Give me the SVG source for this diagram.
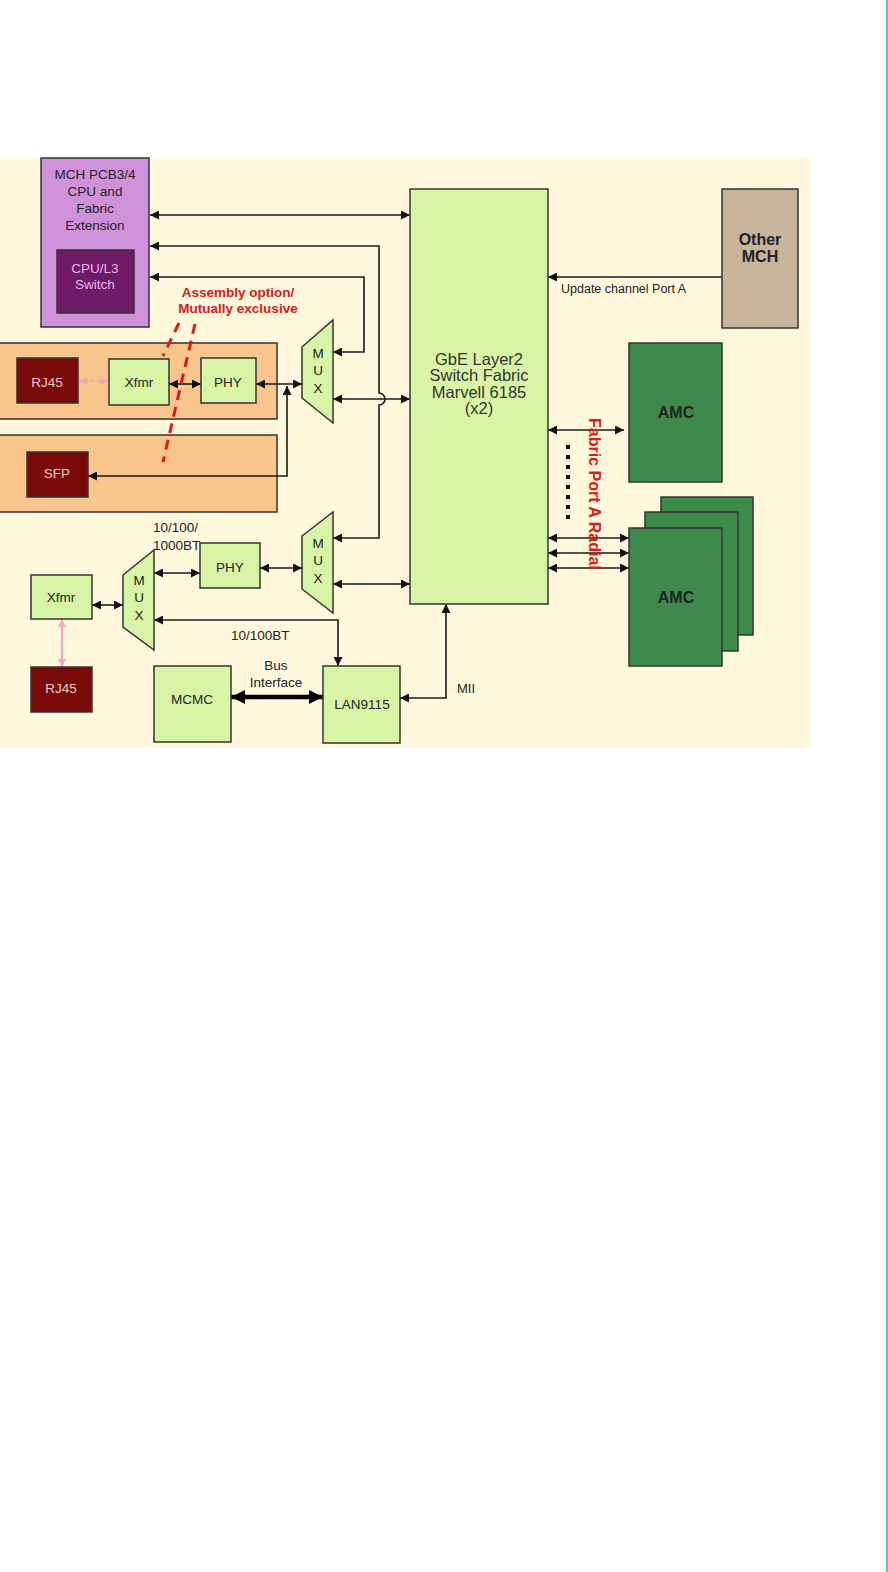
<svg xmlns="http://www.w3.org/2000/svg" width="888" height="1572" viewBox="0 0 888 1572">
<defs>
<style>
.t{font-family:"Liberation Sans",Arial,sans-serif;font-size:13.5px;fill:#222;text-anchor:middle}
.b{font-weight:bold}
.box{stroke:#333;stroke-width:1.5}
.lg{fill:#d8f5a6}
.dr{fill:#7a0a0a}
.og{fill:#f8c68c}
.am{fill:#3e8a4c}
.ln{fill:none;stroke:#1a1a1a;stroke-width:1.6}
.bi{marker-start:url(#ah);marker-end:url(#ah)}
.en{marker-end:url(#ah)}
</style>
<marker id="ah" viewBox="0 0 10 10" refX="10" refY="5" markerWidth="10" markerHeight="9" markerUnits="userSpaceOnUse" orient="auto-start-reverse"><path d="M0,0L10,5L0,10z" fill="#111"/></marker>
<marker id="pk" viewBox="0 0 10 10" refX="10" refY="5" markerWidth="8" markerHeight="8" markerUnits="userSpaceOnUse" orient="auto-start-reverse"><path d="M0,0L10,5L0,10z" fill="#f4a6c0"/></marker>
<marker id="bg" viewBox="0 0 10 10" refX="10" refY="5" markerWidth="14" markerHeight="14" markerUnits="userSpaceOnUse" orient="auto-start-reverse"><path d="M0,0L10,5L0,10z" fill="#000"/></marker>
</defs>
<rect x="0" y="0" width="888" height="1572" fill="#fff"/>
<rect x="886" y="0" width="2" height="1572" fill="#45c6de"/>
<rect x="0" y="158" width="810" height="590" fill="#fff8dc"/>

<g id="orange-top"><rect class="box og" x="-1" y="343" width="278" height="76"/></g>
<g id="orange-bottom"><rect class="box og" x="-1" y="435" width="278" height="77"/></g>

<g id="connectors">
<path class="ln bi" d="M150,215H410"/>
<path class="ln bi" d="M150,246H379V393a6,6 0 0 1 0,12V538H333"/>
<path class="ln bi" d="M150,277H364V352H333"/>
<path class="ln en" d="M722,277H548"/>
<path class="ln bi" d="M333,399H410"/>
<path class="ln bi" d="M169,384H201"/>
<path class="ln bi" d="M256,384H302"/>
<path class="ln bi" d="M287,386V476H88"/>
<path d="M79,381H108" fill="none" stroke="#f4a6c0" stroke-width="2" stroke-dasharray="3 3" marker-start="url(#pk)" marker-end="url(#pk)"/>
<path class="ln bi" d="M333,584H410"/>
<path class="ln bi" d="M260,568H302"/>
<path class="ln bi" d="M154,573H200"/>
<path class="ln bi" d="M92,605H123"/>
<path d="M62,619V667" fill="none" stroke="#f4a6c0" stroke-width="2" marker-start="url(#pk)" marker-end="url(#pk)"/>
<path class="ln bi" d="M154,620H338V666"/>
<path d="M231,697H323" fill="none" stroke="#000" stroke-width="4.5" marker-start="url(#bg)" marker-end="url(#bg)"/>
<path class="ln bi" d="M400,698H446V604"/>
<path class="ln bi" d="M548,430H624"/>
<path class="ln bi" d="M548,538H629"/>
<path class="ln bi" d="M548,553H629"/>
<path class="ln bi" d="M548,568H629"/>
<path d="M568,445V525" fill="none" stroke="#111" stroke-width="4" stroke-dasharray="4 6"/>
</g>

<g id="mch">
<rect class="box" x="41" y="158" width="108" height="169" fill="#cf92da"/>
<text class="t" x="95" y="179">MCH PCB3/4</text>
<text class="t" x="95" y="196">CPU and</text>
<text class="t" x="95" y="213">Fabric</text>
<text class="t" x="95" y="230">Extension</text>
</g>
<g id="cpu-l3">
<rect class="box" x="57" y="250" width="77" height="63" fill="#6e1a67"/>
<text class="t" x="95" y="273" style="fill:#e8b8ea">CPU/L3</text>
<text class="t" x="95" y="289" style="fill:#e8b8ea">Switch</text>
</g>
<g id="assembly-note">
<text class="t b" x="238" y="297" style="fill:#e01818">Assembly option/</text>
<text class="t b" x="238" y="313" style="fill:#e01818">Mutually exclusive</text>
</g>

<g id="gbe">
<rect class="box lg" x="410" y="189" width="138" height="415"/>
<text class="t" x="479" y="365" style="font-size:16.5px;fill:#333">GbE Layer2</text>
<text class="t" x="479" y="381" style="font-size:16.5px;fill:#333">Switch Fabric</text>
<text class="t" x="479" y="398" style="font-size:16.5px;fill:#333">Marvell 6185</text>
<text class="t" x="479" y="414" style="font-size:16.5px;fill:#333">(x2)</text>
</g>
<g id="other-mch">
<rect class="box" x="722" y="189" width="76" height="139" fill="#c9b59c"/>
<text class="t b" x="760" y="245" style="font-size:16px">Other</text>
<text class="t b" x="760" y="262" style="font-size:16px">MCH</text>
</g>
<text class="t" x="561" y="293" style="font-size:12.5px;text-anchor:start">Update channel Port A</text>

<g id="rj45-top"><rect class="box dr" x="17" y="358" width="61" height="45"/><text class="t" x="47" y="387" style="fill:#f2c4c4">RJ45</text></g>
<g id="xfmr-top"><rect class="box lg" x="109" y="359" width="60" height="46"/><text class="t" x="139" y="387">Xfmr</text></g>
<g id="phy-top"><rect class="box lg" x="201" y="358" width="55" height="45"/><text class="t" x="228" y="387">PHY</text></g>
<g id="sfp"><rect class="box dr" x="27" y="452" width="61" height="45"/><text class="t" x="57" y="478" style="fill:#f2c4c4">SFP</text></g>
<g id="mux-top">
<path class="box lg" d="M302,347L333,320V423L302,398Z"/>
<text class="t" x="318" y="358">M</text><text class="t" x="318" y="375">U</text><text class="t" x="318" y="393">X</text>
</g>
<g id="mux-mid">
<path class="box lg" d="M302,536L333,512V613L302,589Z"/>
<text class="t" x="318" y="548">M</text><text class="t" x="318" y="565">U</text><text class="t" x="318" y="583">X</text>
</g>
<g id="phy-low"><rect class="box lg" x="200" y="543" width="60" height="45"/><text class="t" x="230" y="572">PHY</text></g>
<g id="mux-left">
<path class="box lg" d="M123,575L154,550V650L123,627Z"/>
<text class="t" x="139" y="585">M</text><text class="t" x="139" y="602">U</text><text class="t" x="139" y="620">X</text>
</g>
<g id="xfmr-low"><rect class="box lg" x="31" y="575" width="61" height="44"/><text class="t" x="61" y="602">Xfmr</text></g>
<g id="rj45-low"><rect class="box dr" x="31" y="667" width="61" height="45"/><text class="t" x="61" y="693" style="fill:#f2c4c4">RJ45</text></g>
<g id="mcmc"><rect class="box lg" x="154" y="666" width="77" height="76"/><text class="t" x="192" y="704">MCMC</text></g>
<g id="lan9115"><rect class="box lg" x="323" y="666" width="77" height="77"/><text class="t" x="362" y="709">LAN9115</text></g>
<g id="labels">
<text class="t" x="153" y="532" style="text-anchor:start">10/100/</text>
<text class="t" x="153" y="550" style="text-anchor:start">1000BT</text>
<text class="t" x="231" y="640" style="text-anchor:start">10/100BT</text>
<text class="t" x="276" y="670">Bus</text>
<text class="t" x="276" y="687">Interface</text>
<text class="t" x="457" y="693" style="text-anchor:start;font-size:13px">MII</text>
</g>

<g id="amc-top"><rect class="box am" x="629" y="343" width="93" height="139"/><text class="t b" x="676" y="418" style="font-size:16px">AMC</text></g>
<g id="amc-stack">
<rect class="box am" x="661" y="497" width="92" height="138"/>
<rect class="box am" x="645" y="512" width="93" height="139"/>
<rect class="box am" x="629" y="528" width="93" height="138"/>
<text class="t b" x="676" y="603" style="font-size:16px">AMC</text>
</g>
<text class="t b" transform="translate(589,418) rotate(90)" style="font-size:16px;fill:#e01818;text-anchor:start">Fabric Port A Radial</text>

<g id="dashed-red" fill="none" stroke="#e01818" stroke-width="3" stroke-dasharray="10 7">
<path d="M179,323L163,356"/>
<path d="M195,324L163,462"/>
</g>
</svg>
